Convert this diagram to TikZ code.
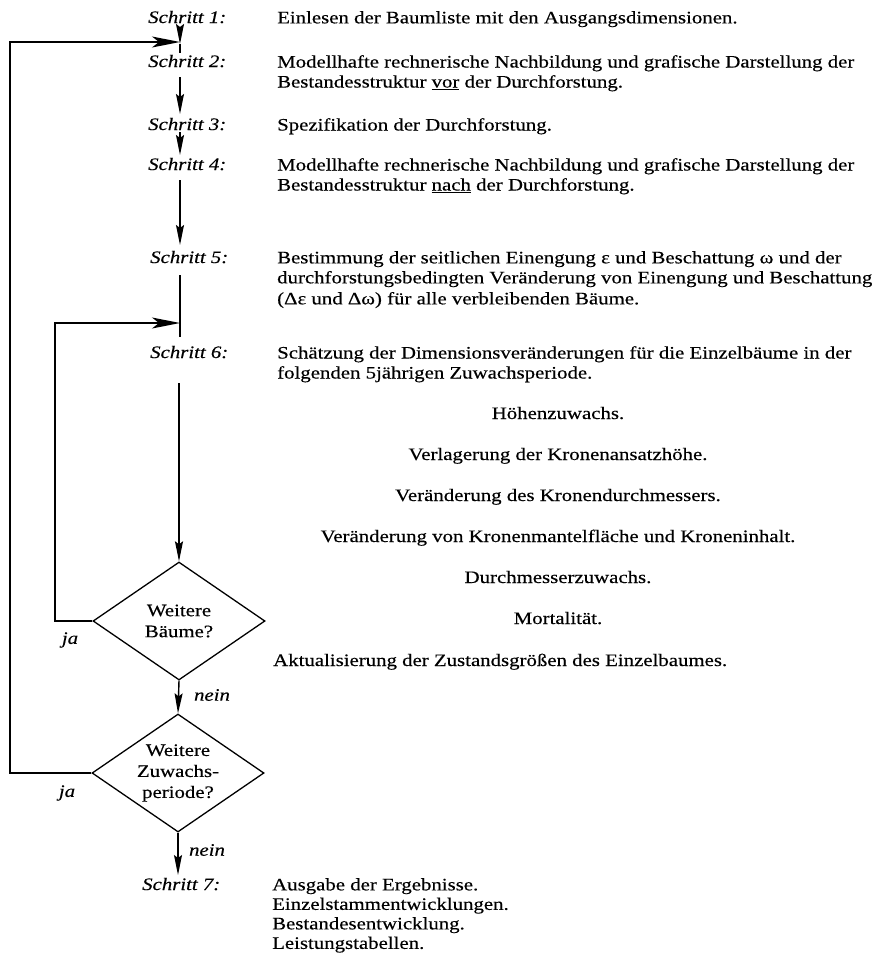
\documentclass[tikz,border=0pt]{standalone}
\usepackage{fontspec}
\setmainfont{Liberation Serif}[FakeStretch=1.19,FakeBold=0.35]
\usetikzlibrary{shapes.geometric,arrows.meta}
\begin{document}
\begin{tikzpicture}[x=1pt,y=-1pt,
  every node/.style={font=\fontsize{17.5}{20}\selectfont},
  lab/.style={anchor=base west, inner sep=0pt, font=\fontsize{17.5}{20}\selectfont\itshape},
  txt/.style={anchor=north west, inner sep=0pt, align=left},
  ctr/.style={anchor=base, inner sep=0pt},
  yn/.style={inner sep=0pt, font=\fontsize{17.5}{20}\selectfont\itshape},
  dia/.style={draw, line width=1.3pt, shape=diamond, aspect=1.46, minimum width=172pt, minimum height=118pt, inner sep=0pt, align=center, font=\fontsize{17.5}{21}\selectfont},
  flow/.style={line width=1.4pt},
  arr/.style={flow, -{Stealth[length=20pt,width=8pt,inset=3pt]}},
  harr/.style={flow, -{Stealth[length=28pt,width=11pt,inset=7pt]}},
  ]
\useasboundingbox[fill=white] (0,0) rectangle (877,962);

% step labels
\node[lab] (s1) at (148,23) {Schritt 1:};
\node[lab] (s2) at (148,67) {Schritt 2:};
\node[lab] (s3) at (148,130) {Schritt 3:};
\node[lab] (s4) at (148,170) {Schritt 4:};
\node[lab] (s5) at (150,263) {Schritt 5:};
\node[lab] (s6) at (150,358) {Schritt 6:};
\node[lab] (s7) at (142,890) {Schritt 7:};

% step texts
\node[txt] (t1) at (277,11) {Einlesen der Baumliste mit den Ausgangsdimensionen.};
\node[txt] (t2) at (277,55) {Modellhafte rechnerische Nachbildung und grafische Darstellung der\\Bestandesstruktur \underline{vor} der Durchforstung.};
\node[txt] (t3) at (277,118) {Spezifikation der Durchforstung.};
\node[txt] (t4) at (277,158) {Modellhafte rechnerische Nachbildung und grafische Darstellung der\\Bestandesstruktur \underline{nach} der Durchforstung.};
\node[txt] (t5) at (277,251) {Bestimmung der seitlichen Einengung ε und Beschattung ω und der\\durchforstungsbedingten Veränderung von Einengung und Beschattung\\[1pt](Δε und Δω) für alle verbleibenden Bäume.};
\node[txt] (t6) at (277,346) {Schätzung der Dimensionsveränderungen für die Einzelbäume in der\\folgenden 5jährigen Zuwachsperiode.};

\node[ctr] (h1) at (558,419) {Höhenzuwachs.};
\node[ctr] (h2) at (558,460) {Verlagerung der Kronenansatzhöhe.};
\node[ctr] (h3) at (558,501) {Veränderung des Kronendurchmessers.};
\node[ctr] (h4) at (558,542) {Veränderung von Kronenmantelfläche und Kroneninhalt.};
\node[ctr] (h5) at (558,583) {Durchmesserzuwachs.};
\node[ctr] (h6) at (558,624) {Mortalität.};
\node[anchor=base west, inner sep=0pt] (akt) at (273,666) {Aktualisierung der Zustandsgrößen des Einzelbaumes.};

\node[txt, font=\fontsize{17.5}{19.5}\selectfont] (t7) at (272,878) {Ausgabe der Ergebnisse.\\Einzelstammentwicklungen.\\Bestandesentwicklung.\\Leistungstabellen.};

% decisions
\node[dia] (d1) at (179,621) {Weitere\\Bäume?};
\node[dia] (d2) at (178,773) {Weitere\\Zuwachs-\\periode?};

\node[yn] (ja1) at (70,640) {ja};
\node[yn] (ja2) at (67,793) {ja};
\node[yn] (n1) at (212,695) {nein};
\node[yn] (n2) at (207,850) {nein};

% connector points
\coordinate (s1b) at (180,28);
\coordinate (j1) at (180,44);
\coordinate (j0) at (180,42);
\coordinate (s2t) at (180,53);
\coordinate (s2b) at (180,77);
\coordinate (s3t) at (180,114);
\coordinate (s3b) at (180,132);
\coordinate (s4t) at (180,155);
\coordinate (s4b) at (180,180);
\coordinate (s5t) at (180,245);
\coordinate (s5b) at (180,275);
\coordinate (j2) at (180,323);
\coordinate (s6t) at (180,337);
\coordinate (s6b) at (179,383);
\coordinate (s7t) at (178,875);
\coordinate (l1) at (55,323);
\coordinate (l2) at (10,42);

\draw[arr] (s1b) -- (j1);
\draw[flow] (j1) -- (s2t);
\draw[arr] (s2b) -- (s3t);
\draw[arr] (s3b) -- (s4t);
\draw[arr] (s4b) -- (s5t);
\draw[flow] (s5b) -- (s6t);
\draw[arr] (s6b) -- (d1.north);
\draw[arr] (d1.south) -- (d2.north);
\draw[arr] (d2.south) -- (s7t);
\draw[harr] (d1.west) -| (l1) -- (j2);
\draw[harr] (d2.west) -| (l2) -- (j0);
\end{tikzpicture}
\end{document}
